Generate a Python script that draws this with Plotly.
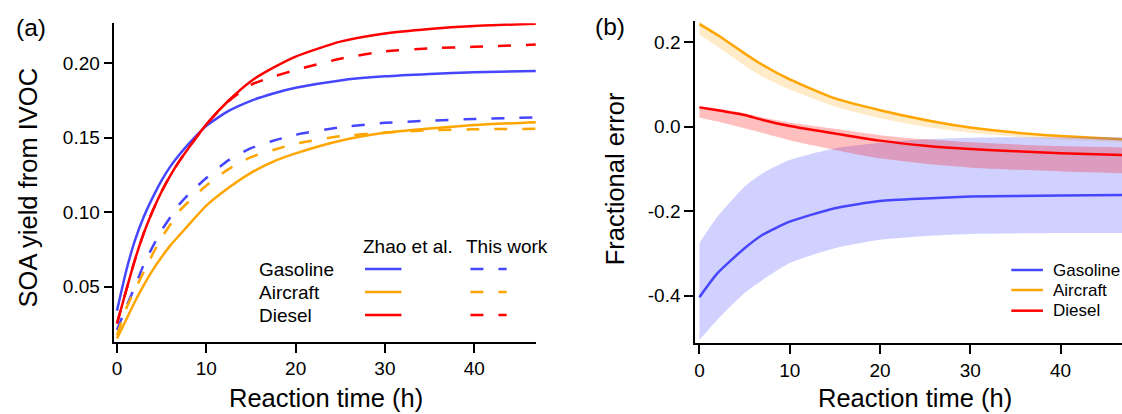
import plotly.graph_objects as go

# ---------------- data: panel (a) SOA yield ----------------
t_a = [0, 1, 2, 3, 4, 5, 6, 7, 8, 10, 12.5, 15, 17.5, 20, 25, 30, 35, 40, 46.9]
gas_zhao = [0.034, 0.060, 0.081, 0.097, 0.110, 0.1215, 0.131, 0.1388, 0.1458, 0.158, 0.168, 0.1748,
            0.1797, 0.1835, 0.1885, 0.1912, 0.1928, 0.194, 0.1948]
air_zhao = [0.0153, 0.0276, 0.040, 0.0511, 0.0612, 0.070, 0.078, 0.0847, 0.0914, 0.1045, 0.1165, 0.1265,
            0.1340, 0.1395, 0.1480, 0.1533, 0.1563, 0.1585, 0.1605]
die_zhao = [0.0254, 0.047, 0.068, 0.086, 0.101, 0.114, 0.125, 0.1345, 0.143, 0.159, 0.175, 0.188,
            0.197, 0.2045, 0.2145, 0.2200, 0.2230, 0.2250, 0.2265]
gas_this = [0.021, 0.036, 0.050, 0.065, 0.077, 0.088, 0.097, 0.1055, 0.112, 0.123, 0.135, 0.143,
            0.148, 0.152, 0.157, 0.160, 0.1615, 0.1626, 0.1637]
air_this = [0.0175, 0.035, 0.048, 0.060, 0.072, 0.083, 0.092, 0.101, 0.107, 0.118, 0.129, 0.137,
            0.1418, 0.146, 0.151, 0.1535, 0.155, 0.1557, 0.156]
die_this = [0.0254, 0.047, 0.068, 0.086, 0.101, 0.114, 0.125, 0.1345, 0.143, 0.159, 0.1745, 0.1855,
            0.191, 0.1955, 0.203, 0.208, 0.210, 0.211, 0.2125]

# ---------------- data: panel (b) fractional error ----------------
t_b = [0, 2, 5, 7, 10, 15, 20, 25, 30, 35, 40, 46.8]
air_err = [0.243, 0.217, 0.1735, 0.146, 0.112, 0.067, 0.039, 0.016, -0.002, -0.014, -0.022, -0.030]
air_hi = [0.249, 0.222, 0.178, 0.150, 0.116, 0.071, 0.042, 0.019, 0.000, -0.012, -0.020, -0.028]
air_lo = [0.218, 0.190, 0.145, 0.118, 0.088, 0.048, 0.020, 0.000, -0.014, -0.024, -0.031, -0.036]
die_err = [0.0457, 0.039, 0.0276, 0.016, 0.0016, -0.016, -0.033, -0.045, -0.053, -0.058, -0.063, -0.067]
die_hi = [0.049, 0.043, 0.032, 0.022, 0.010, -0.005, -0.020, -0.030, -0.037, -0.042, -0.046, -0.049]
die_lo = [0.022, 0.012, -0.004, -0.015, -0.032, -0.055, -0.075, -0.088, -0.097, -0.102, -0.106, -0.110]
gas_err = [-0.404, -0.347, -0.288, -0.256, -0.225, -0.193, -0.176, -0.170, -0.1656, -0.164, -0.163, -0.162]
gas_hi = [-0.276, -0.213, -0.142, -0.110, -0.079, -0.051, -0.038, -0.030, -0.026, -0.025, -0.025, -0.025]
gas_lo = [-0.505, -0.457, -0.394, -0.363, -0.323, -0.288, -0.268, -0.259, -0.254, -0.253, -0.252, -0.252]

fuels = ["Gasoline", "Aircraft", "Diesel"]
legend_heads = ["Zhao et al.", "This work"]
x_ticks = [0, 10, 20, 30, 40]
ya_ticks = [0.05, 0.10, 0.15, 0.20]
ya_text = ["0.05", "0.10", "0.15", "0.20"]
yb_ticks = [0.2, 0.0, -0.2, -0.4]
yb_text = ["0.2", "0.0", "-0.2", "-0.4"]

BLUE = "rgb(70,70,255)"
ORANGE = "rgb(255,165,0)"
RED = "rgb(255,0,0)"
BLUE_F = "rgba(70,70,255,0.25)"
ORANGE_F = "rgba(255,175,30,0.25)"
RED_F = "rgba(255,0,0,0.25)"
colors = [BLUE, ORANGE, RED]
FONT = "Liberation Sans, Arial, sans-serif"
DASH = "13px,15px"
W, H = 1122, 414
SPL = dict(shape="spline", smoothing=0.6)


def px(x):
    return x / W


def py(y):
    return 1 - y / H


fig = go.Figure()

# panel (a)
for ys, c, d in [(gas_zhao, BLUE, "solid"), (air_zhao, ORANGE, "solid"), (die_zhao, RED, "solid"),
                 (gas_this, BLUE, DASH), (air_this, ORANGE, DASH), (die_this, RED, DASH)]:
    fig.add_trace(go.Scatter(x=t_a, y=ys, mode="lines", xaxis="x", yaxis="y",
                             line=dict(color=c, width=2.5, dash=d, **SPL),
                             showlegend=False, hoverinfo="skip"))

# panel (b)
for lo, hi, mid, c, f in [(air_lo, air_hi, air_err, ORANGE, ORANGE_F),
                          (gas_lo, gas_hi, gas_err, BLUE, BLUE_F),
                          (die_lo, die_hi, die_err, RED, RED_F)]:
    fig.add_trace(go.Scatter(x=t_b, y=lo, mode="lines", xaxis="x2", yaxis="y2",
                             line=dict(width=0, **SPL), showlegend=False, hoverinfo="skip"))
    fig.add_trace(go.Scatter(x=t_b, y=hi, mode="lines", xaxis="x2", yaxis="y2", fill="tonexty",
                             fillcolor=f, line=dict(width=0, **SPL),
                             showlegend=False, hoverinfo="skip"))
    fig.add_trace(go.Scatter(x=t_b, y=mid, mode="lines", xaxis="x2", yaxis="y2",
                             line=dict(color=c, width=2.5, **SPL),
                             showlegend=False, hoverinfo="skip"))

axis_common = dict(showgrid=False, zeroline=False, showline=True, linecolor="black", linewidth=1.6,
                   ticks="outside", ticklen=9, tickwidth=1.5, tickcolor="black",
                   tickfont=dict(family=FONT, size=19, color="black"), mirror=False)

fig.update_layout(
    width=W, height=H, margin=dict(l=0, r=0, t=0, b=0),
    paper_bgcolor="white", plot_bgcolor="white",
    xaxis=dict(domain=[px(111.7), px(534.3)], range=[-0.29, 46.9], anchor="y",
               tickvals=x_ticks, **axis_common),
    yaxis=dict(domain=[py(341.7), py(23.3)], range=[0.0132, 0.2268], anchor="x",
               tickvals=ya_ticks, ticktext=ya_text, **axis_common),
    xaxis2=dict(domain=[px(694), 1.0], range=[-0.475, 46.8], anchor="y2",
                tickvals=x_ticks, **axis_common),
    yaxis2=dict(domain=[py(343.3), py(20.7)], range=[-0.513, 0.251], anchor="x2",
                tickvals=yb_ticks, ticktext=yb_text, **axis_common),
)

ann = []


def text(s, x, y, size, xanchor="center", angle=0):
    ann.append(dict(text=s, x=px(x), y=py(y), xref="paper", yref="paper", showarrow=False,
                    xanchor=xanchor, yanchor="middle", textangle=angle,
                    font=dict(family=FONT, size=size, color="black")))


text("(a)", 27.7, 28, 24.5)
text("(b)", 608.6, 27, 24.5)
text("Reaction time (h)", 324, 398, 25.5)
text("Reaction time (h)", 914.6, 398, 25.5)
text("SOA yield from IVOC", 25.5, 187, 25.5, angle=-90)
text("Fractional error", 614, 179, 25.5, angle=-90)

# legend (a)
text(legend_heads[0], 406, 246, 19)
text(legend_heads[1], 505, 246, 19)
rows_a = [269, 292, 315]
shapes = []
for name, c, yy in zip(fuels, colors, rows_a):
    text(name, 255, yy, 19, xanchor="left")
    shapes.append(dict(type="line", xref="paper", yref="paper", x0=px(363), x1=px(399.5),
                       y0=py(yy), y1=py(yy), line=dict(color=c, width=2.5)))
    shapes.append(dict(type="line", xref="paper", yref="paper", x0=px(468.7), x1=px(505),
                       y0=py(yy), y1=py(yy), line=dict(color=c, width=2.5, dash=DASH)))

# legend (b)
rows_b = [270, 290, 310.7]
for name, c, yy in zip(fuels, colors, rows_b):
    text(name, 1050.7, yy, 17, xanchor="left")
    shapes.append(dict(type="line", xref="paper", yref="paper", x0=px(1011), x1=px(1042.7),
                       y0=py(yy), y1=py(yy), line=dict(color=c, width=2.5)))

fig.update_layout(annotations=ann, shapes=shapes)
fig.write_html("out.html", config={"displayModeBar": False},
               post_script="document.body.style.margin='0';document.body.style.overflow='hidden';")
